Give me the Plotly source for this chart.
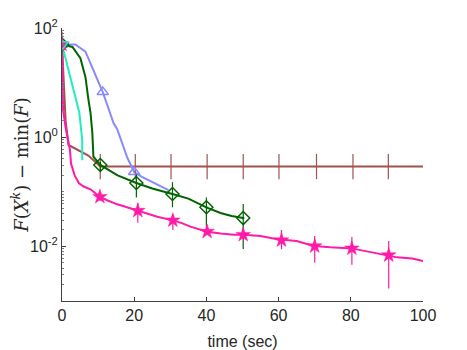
import plotly.graph_objects as go

# ---- data ----
# pink (star markers)
pink_t = [0, 0.3, 1.0, 2.2, 2.5, 3.5, 4.7, 6.0, 7.9, 10.5, 12.5, 15.3, 18.0, 21.0, 23.5, 26.4,
          30.7, 33.0, 35.6, 40.2, 44.0, 47.6, 50.2, 55.0, 59.6, 60.8, 65.0, 69.7, 74.3, 80.3,
          85.4, 90.5, 92.8, 97.0, 100.0]
pink_y = [50, 3.2, 1.5, 0.59, 0.33, 0.2, 0.143, 0.125, 0.111, 0.081, 0.07, 0.059, 0.052, 0.045,
          0.04, 0.035, 0.030, 0.027, 0.023, 0.0186, 0.0172, 0.0163, 0.0163, 0.0155, 0.0135,
          0.0132, 0.0125, 0.0102, 0.0096, 0.0092, 0.0079, 0.0069, 0.0063, 0.006, 0.0054]
pink_mk_t = [0, 10.5, 21.0, 30.7, 40.2, 50.2, 60.8, 70.0, 80.3, 90.5]
pink_mk_y = [50, 0.081, 0.045, 0.030, 0.0186, 0.0163, 0.013, 0.0101, 0.0092, 0.0069]
pink_hi = [50, 0.095, 0.063, 0.038, 0.021, 0.021, 0.020, 0.0155, 0.0148, 0.0126]
pink_lo = [50, 0.068, 0.027, 0.020, 0.0165, 0.0132, 0.0089, 0.0050, 0.0046, 0.0017]

# dark green (diamond markers)
green_t = [0, 2.9, 5.1, 6.5, 7.3, 7.9, 8.4, 8.7, 10.6, 15.4, 20.6, 25.0, 30.6, 35.0, 40.0,
           43.9, 47.0, 50.2]
green_y = [50, 45, 28, 12.6, 5.0, 2.8, 1.2, 0.44, 0.31, 0.2, 0.145, 0.115, 0.091, 0.075,
           0.052, 0.041, 0.036, 0.033]
green_mk_t = [0, 10.6, 20.6, 30.6, 40.0, 50.2]
green_mk_y = [50, 0.31, 0.145, 0.091, 0.052, 0.033]
green_hi = [50, 0.36, 0.21, 0.15, 0.079, 0.06]
green_lo = [50, 0.25, 0.079, 0.052, 0.023, 0.009]

# light blue (triangle markers)
blue_t = [0, 3.7, 6.5, 8.7, 11.3, 14.3, 15.3, 18.1, 19.8, 20.0, 22.0, 25.0, 29.5]
blue_y = [50, 50, 37, 17, 6.7, 1.8, 1.4, 0.42, 0.25, 0.23, 0.19, 0.15, 0.107]
blue_mk_t = [0, 11.3, 20.0]
blue_mk_y = [50, 6.7, 0.23]

# cyan (down-triangle marker)
cyan_t = [0, 4.8, 5.6, 5.6]
cyan_y = [50, 2.8, 0.9, 0.38]
cyan_mk_t = [0]
cyan_mk_y = [50]

# brown (plus markers)
brown_t = [0, 1.0, 1.8, 7.3, 10.6, 100.0]
brown_y = [50, 2.0, 0.72, 0.46, 0.29, 0.29]
brown_mk_t = [0, 10.6, 20.3, 30.2, 40.2, 50.2, 60.1, 70.5, 80.6, 90.4]
brown_mk_y = [50, 0.29, 0.29, 0.29, 0.29, 0.29, 0.29, 0.29, 0.29, 0.29]

PINK = "#ff1aa8"
GREEN = "#006400"
BLUE = "#8a8aff"
CYAN = "#22eebb"
BROWN = "#a0524f"


def errs(y, hi, lo):
    return dict(type="data", symmetric=False,
                array=[h - v for h, v in zip(hi, y)],
                arrayminus=[v - l for v, l in zip(y, lo)],
                width=0, thickness=1.2)


fig = go.Figure()

# lines
fig.add_trace(go.Scatter(x=brown_t, y=brown_y, mode="lines",
                         line=dict(color=BROWN, width=2)))
fig.add_trace(go.Scatter(x=blue_t, y=blue_y, mode="lines",
                         line=dict(color=BLUE, width=2)))
fig.add_trace(go.Scatter(x=green_t, y=green_y, mode="lines",
                         line=dict(color=GREEN, width=2)))
fig.add_trace(go.Scatter(x=cyan_t, y=cyan_y, mode="lines",
                         line=dict(color=CYAN, width=2)))
fig.add_trace(go.Scatter(x=pink_t, y=pink_y, mode="lines",
                         line=dict(color=PINK, width=2)))

# markers + error bars
fig.add_trace(go.Scatter(x=brown_mk_t, y=brown_mk_y, mode="markers",
                         marker=dict(symbol="line-ns-open", size=18, color=BROWN,
                                     line=dict(color=BROWN, width=1.2))))
fig.add_trace(go.Scatter(x=blue_mk_t, y=blue_mk_y, mode="markers",
                         marker=dict(symbol="triangle-up-open", size=10, color=BLUE,
                                     line=dict(color=BLUE, width=1.5))))
fig.add_trace(go.Scatter(x=green_mk_t, y=green_mk_y, mode="markers",
                         error_y=dict(errs(green_mk_y, green_hi, green_lo), color=GREEN),
                         marker=dict(symbol="diamond-open-dot", size=10, color=GREEN,
                                     line=dict(color=GREEN, width=1.5))))
fig.add_trace(go.Scatter(x=pink_mk_t, y=pink_mk_y, mode="markers",
                         error_y=dict(errs(pink_mk_y, pink_hi, pink_lo), color=PINK),
                         marker=dict(symbol="star", size=11, color=PINK,
                                     line=dict(color=PINK, width=0.5))))
fig.add_trace(go.Scatter(x=cyan_mk_t, y=cyan_mk_y, mode="markers",
                         marker=dict(symbol="triangle-down-open", size=11, color=CYAN,
                                     line=dict(color=CYAN, width=1.5))))

minor_vals = [m * 10 ** e for e in range(-3, 2) for m in range(2, 10)]

# page body has an 8px margin, so shift the plot area back by that
fig.update_layout(
    width=467, height=350,
    margin=dict(l=54, r=52, t=20, b=57),
    plot_bgcolor="white", paper_bgcolor="white",
    showlegend=False,
    font=dict(family="Liberation Sans, Arial", size=16, color="#262626"),
)
fig.update_xaxes(
    range=[0, 100], tickvals=[0, 20, 40, 60, 80, 100],
    ticks="inside", ticklen=4, tickcolor="#404040",
    tickfont=dict(size=16), automargin=False,
    showline=True, linecolor="#404040", linewidth=1,
    showgrid=False, zeroline=False,
    title=dict(text="time (sec)", font=dict(size=16), standoff=12),
)
fig.update_yaxes(
    type="log", range=[-3, 2],
    tickvals=[1e-2, 1, 1e2],
    ticktext=["10<sup>-2</sup>", "10<sup>0</sup>", "10<sup>2</sup>"],
    tickfont=dict(size=16), automargin=False,
    ticks="inside", ticklen=4, tickcolor="#404040",
    minor=dict(tickvals=minor_vals + [1e-3, 1e-1, 10], ticks="inside", ticklen=2,
               tickcolor="#808080", showgrid=False),
    showline=True, linecolor="#404040", linewidth=1,
    showgrid=False, zeroline=False,
    title=dict(text="<i>F</i>(<i>X</i><sup><i>k</i></sup>) \u2212 min(<i>F</i>)",
               font=dict(family="DejaVu Serif, Liberation Serif", size=18), standoff=4),
)

fig.write_html("out.html")
